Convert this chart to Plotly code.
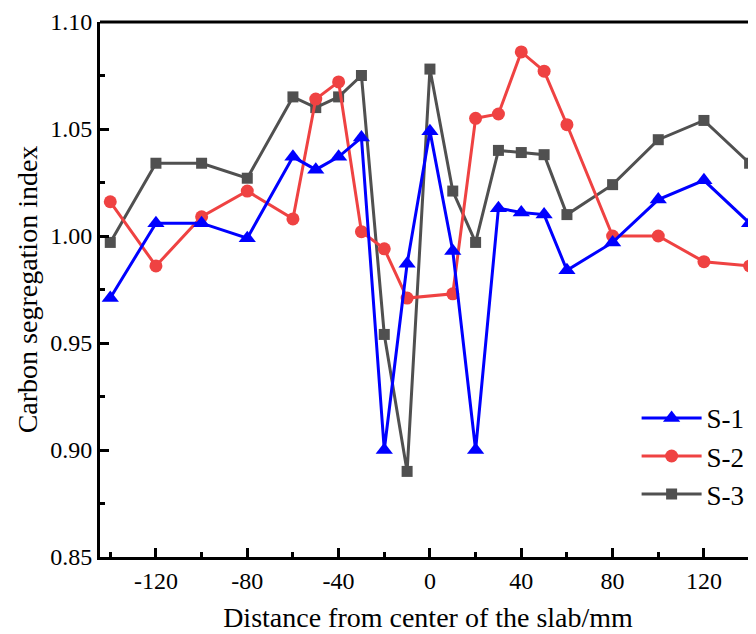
import plotly.graph_objects as go

x = [-140, -120, -100, -80, -60, -50, -40, -30, -20, -10, 0, 10, 20, 30, 40, 50, 60, 80, 100, 120, 140]
s1 = [0.971, 1.006, 1.006, 0.999, 1.037, 1.031, 1.037, 1.046, 0.900, 0.987, 1.049, 0.993, 0.900, 1.013, 1.011, 1.010, 0.984, 0.997, 1.017, 1.026, 1.006]
s2 = [1.016, 0.986, 1.009, 1.021, 1.008, 1.064, 1.072, 1.002, 0.994, 0.971, None, 0.973, 1.055, 1.057, 1.086, 1.077, 1.052, 1.000, 1.000, 0.988, 0.986]
s3 = [0.997, 1.034, 1.034, 1.027, 1.065, 1.060, 1.065, 1.075, 0.954, 0.890, 1.078, 1.021, 0.997, 1.040, 1.039, 1.038, 1.010, 1.024, 1.045, 1.054, 1.034]

x_tickvals = [-120, -80, -40, 0, 40, 80, 120]
x_ticktext = ["-120", "-80", "-40", "0", "40", "80", "120"]

FONT = "Liberation Serif, Times New Roman, serif"

fig = go.Figure()
fig.add_trace(go.Scatter(x=x, y=s3, name="S-3", mode="lines+markers",
                         line=dict(color="#505050", width=3),
                         marker=dict(symbol="square", size=11, color="#505050")))
fig.add_trace(go.Scatter(x=x, y=s2, name="S-2", mode="lines+markers", connectgaps=True,
                         line=dict(color="#EF4242", width=3),
                         marker=dict(symbol="circle", size=13, color="#EF4242")))
fig.add_trace(go.Scatter(x=x, y=s1, name="S-1", mode="lines+markers",
                         line=dict(color="#0000FF", width=3),
                         marker=dict(symbol="triangle-up", size=15, color="#0000FF")))

# page body has an 8px margin, so the figure is offset by (8, 8) in the window
fig.update_layout(
    width=748, height=626,
    margin=dict(l=92, r=0, t=14, b=77),
    plot_bgcolor="white", paper_bgcolor="white",
    font=dict(family=FONT, size=22, color="black"),
    showlegend=True,
    legend=dict(traceorder="reversed", x=0.818, y=0.305, xanchor="left", yanchor="top",
                bgcolor="rgba(0,0,0,0)", font=dict(size=27, family=FONT),
                itemwidth=60, tracegroupgap=0),
    xaxis=dict(range=[-144.5, 142.8], tickmode="array", tickvals=x_tickvals, ticktext=x_ticktext,
               ticks="inside", ticklen=9, tickwidth=3, tickcolor="black", automargin=False,
               showline=True, linecolor="black", linewidth=3, showgrid=False, zeroline=False,
               minor=dict(ticks="inside", tickmode="linear", dtick=20, tick0=-140, ticklen=5, tickwidth=3, tickcolor="black"),
               title=dict(text="Distance from center of the slab/mm", font=dict(size=28, family=FONT), standoff=15),
               tickfont=dict(size=24, family=FONT)),
    yaxis=dict(range=[0.85, 1.10], tickmode="linear", tick0=0.85, dtick=0.05, tickformat=".2f",
               ticks="inside", ticklen=9, tickwidth=3, tickcolor="black", automargin=False,
               showline=True, linecolor="black", linewidth=3, showgrid=False, zeroline=False,
               minor=dict(ticks="inside", dtick=0.025, tick0=0.85, ticklen=5, tickwidth=3, tickcolor="black"),
               title=dict(text="Carbon segregation index", font=dict(size=28, family=FONT), standoff=5),
               tickfont=dict(size=24, family=FONT)),
    shapes=[dict(type="line", xref="paper", yref="paper", x0=0, x1=1, y0=1, y1=1,
                 line=dict(color="black", width=3))],
)

fig.write_html("out.html")
